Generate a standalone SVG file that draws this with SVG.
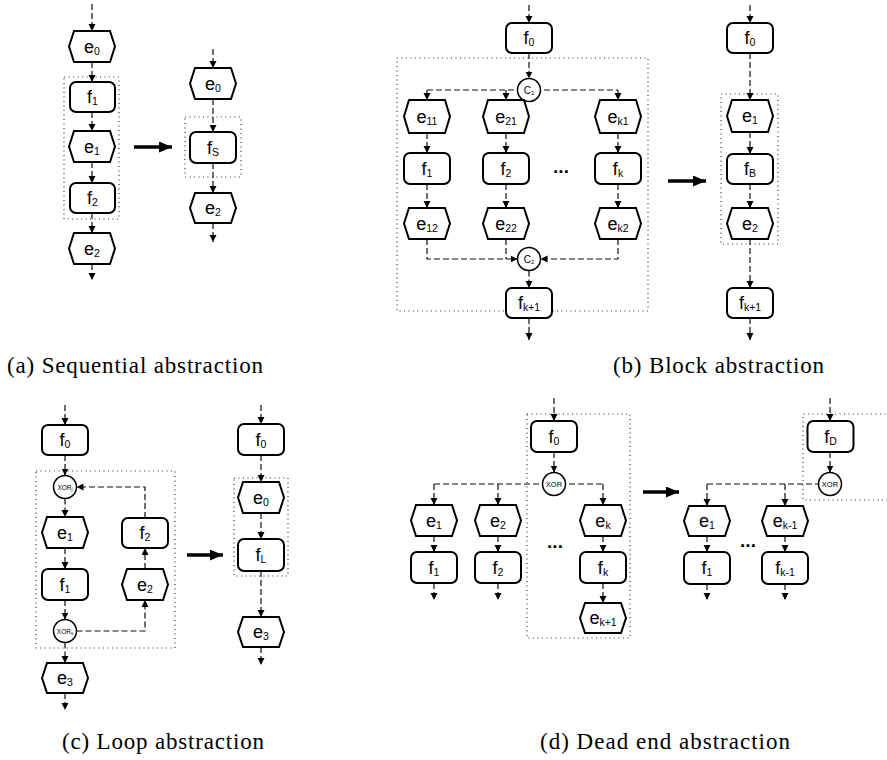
<svg xmlns="http://www.w3.org/2000/svg" width="887" height="760" viewBox="0 0 887 760">
<style>
.n{fill:#fff;stroke:#000;stroke-width:2}
.g{fill:#fff;stroke:#000;stroke-width:1.5}
.e{fill:none;stroke:#111;stroke-width:1.2;stroke-dasharray:6,3}
.box{fill:none;stroke:#333;stroke-width:1.2;stroke-dasharray:1,3.5}
.big{fill:none;stroke:#000;stroke-width:3.5}
.l{font-family:"Liberation Sans",Arial,sans-serif;font-size:18px;text-anchor:middle;fill:#000}
.s{font-size:10.5px}
.cl{font-family:"Liberation Sans",Arial,sans-serif;font-size:10px;text-anchor:middle;fill:#000}
.xj{font-family:"Liberation Sans",Arial,sans-serif;font-size:6.5px;text-anchor:middle;fill:#000}
.xd{font-family:"Liberation Sans",Arial,sans-serif;font-size:7.5px;text-anchor:middle;fill:#000}
.cap{font-family:"Liberation Serif","Times New Roman",serif;font-size:23px;fill:#000}
.dots{font-family:"Liberation Sans",Arial,sans-serif;font-size:19px;font-weight:bold;text-anchor:middle;fill:#000}
</style>
<defs>
<marker id="a" markerUnits="userSpaceOnUse" markerWidth="8" markerHeight="8" refX="7" refY="3.5" orient="auto"><path d="M0,0 L7,3.5 L0,7 z" fill="#000"/></marker>
<marker id="b" markerUnits="userSpaceOnUse" markerWidth="14" markerHeight="12" refX="13" refY="5.5" orient="auto"><path d="M0,0 L13,5.5 L0,11 z" fill="#000"/></marker>
</defs>

<!-- dotted grouping boxes -->
<g id="boxes">
<rect class="box" x="64" y="77" width="55" height="142"/>
<rect class="box" x="185" y="117" width="56" height="60"/>
<rect class="box" x="397" y="58" width="251" height="253"/>
<rect class="box" x="721" y="94" width="57" height="150"/>
<rect class="box" x="36" y="471" width="139" height="177"/>
<rect class="box" x="234" y="478" width="54" height="98"/>
<rect class="box" x="527" y="414" width="103" height="224"/>
<path class="box" d="M890,414 H803 V500 H890"/>
</g>

<!-- connectors -->
<g id="connectors">
<!-- (a) left -->
<line class="e" x1="92" y1="4" x2="92" y2="31" marker-end="url(#a)"/>
<line class="e" x1="92" y1="62" x2="92" y2="82" marker-end="url(#a)"/>
<line class="e" x1="92" y1="112" x2="92" y2="131" marker-end="url(#a)"/>
<line class="e" x1="92" y1="162" x2="92" y2="183" marker-end="url(#a)"/>
<line class="e" x1="92" y1="213" x2="92" y2="233" marker-end="url(#a)"/>
<line class="e" x1="92" y1="264" x2="92" y2="280" marker-end="url(#a)"/>
<line class="big" x1="134" y1="147" x2="172" y2="147" marker-end="url(#b)"/>
<!-- (a) right -->
<line class="e" x1="213" y1="49" x2="213" y2="68" marker-end="url(#a)"/>
<line class="e" x1="213" y1="99" x2="213" y2="132" marker-end="url(#a)"/>
<line class="e" x1="213" y1="163" x2="213" y2="193" marker-end="url(#a)"/>
<line class="e" x1="213" y1="223" x2="213" y2="242" marker-end="url(#a)"/>
<!-- (b) left -->
<line class="e" x1="529" y1="5" x2="529" y2="23" marker-end="url(#a)"/>
<line class="e" x1="529" y1="53" x2="529" y2="78.5" marker-end="url(#a)"/>
<line class="e" x1="427" y1="90" x2="618" y2="90"/>
<line class="e" x1="427" y1="90" x2="427" y2="100" marker-end="url(#a)"/>
<line class="e" x1="506" y1="90" x2="506" y2="100" marker-end="url(#a)"/>
<line class="e" x1="618" y1="90" x2="618" y2="100" marker-end="url(#a)"/>
<line class="e" x1="427" y1="133" x2="427" y2="153" marker-end="url(#a)"/>
<line class="e" x1="506" y1="133" x2="506" y2="153" marker-end="url(#a)"/>
<line class="e" x1="618" y1="133" x2="618" y2="153" marker-end="url(#a)"/>
<line class="e" x1="427" y1="184" x2="427" y2="208" marker-end="url(#a)"/>
<line class="e" x1="506" y1="184" x2="506" y2="208" marker-end="url(#a)"/>
<line class="e" x1="618" y1="184" x2="618" y2="208" marker-end="url(#a)"/>
<path class="e" d="M427,239 V259 H517.5" marker-end="url(#a)"/>
<path class="e" d="M506,239 V259"/>
<path class="e" d="M618,239 V259 H540.5" marker-end="url(#a)"/>
<line class="e" x1="529" y1="270.5" x2="529" y2="288" marker-end="url(#a)"/>
<line class="e" x1="529" y1="318" x2="529" y2="340" marker-end="url(#a)"/>
<line class="big" x1="668" y1="181" x2="706" y2="181" marker-end="url(#b)"/>
<!-- (b) right -->
<line class="e" x1="750" y1="5" x2="750" y2="23" marker-end="url(#a)"/>
<line class="e" x1="750" y1="53" x2="750" y2="100" marker-end="url(#a)"/>
<line class="e" x1="750" y1="132" x2="750" y2="154" marker-end="url(#a)"/>
<line class="e" x1="750" y1="184" x2="750" y2="208" marker-end="url(#a)"/>
<line class="e" x1="750" y1="239" x2="750" y2="288" marker-end="url(#a)"/>
<line class="e" x1="750" y1="318" x2="750" y2="340" marker-end="url(#a)"/>
<!-- (c) left -->
<line class="e" x1="65" y1="405" x2="65" y2="425" marker-end="url(#a)"/>
<line class="e" x1="65" y1="455" x2="65" y2="475.5" marker-end="url(#a)"/>
<line class="e" x1="65" y1="498.5" x2="65" y2="517" marker-end="url(#a)"/>
<line class="e" x1="65" y1="548" x2="65" y2="569" marker-end="url(#a)"/>
<line class="e" x1="65" y1="600" x2="65" y2="619.5" marker-end="url(#a)"/>
<line class="e" x1="65" y1="642.5" x2="65" y2="663" marker-end="url(#a)"/>
<line class="e" x1="65" y1="693" x2="65" y2="710" marker-end="url(#a)"/>
<path class="e" d="M76.5,631 H145 V600" marker-end="url(#a)"/>
<line class="e" x1="145" y1="569" x2="145" y2="548" marker-end="url(#a)"/>
<path class="e" d="M145,518 V487 H76.5" marker-end="url(#a)"/>
<line class="big" x1="187" y1="555" x2="223" y2="555" marker-end="url(#b)"/>
<!-- (c) right -->
<line class="e" x1="261" y1="405" x2="261" y2="424" marker-end="url(#a)"/>
<line class="e" x1="261" y1="455" x2="261" y2="482" marker-end="url(#a)"/>
<line class="e" x1="261" y1="513" x2="261" y2="539" marker-end="url(#a)"/>
<line class="e" x1="261" y1="571" x2="261" y2="617" marker-end="url(#a)"/>
<line class="e" x1="261" y1="647" x2="261" y2="665" marker-end="url(#a)"/>
<!-- (d) left -->
<line class="e" x1="554" y1="398" x2="554" y2="421" marker-end="url(#a)"/>
<line class="e" x1="554" y1="452" x2="554" y2="472.5" marker-end="url(#a)"/>
<line class="e" x1="434" y1="484" x2="603" y2="484"/>
<line class="e" x1="434" y1="484" x2="434" y2="505" marker-end="url(#a)"/>
<line class="e" x1="498" y1="484" x2="498" y2="505" marker-end="url(#a)"/>
<line class="e" x1="603" y1="484" x2="603" y2="505" marker-end="url(#a)"/>
<line class="e" x1="434" y1="536" x2="434" y2="552" marker-end="url(#a)"/>
<line class="e" x1="498" y1="536" x2="498" y2="552" marker-end="url(#a)"/>
<line class="e" x1="603" y1="536" x2="603" y2="552" marker-end="url(#a)"/>
<line class="e" x1="434" y1="583" x2="434" y2="600" marker-end="url(#a)"/>
<line class="e" x1="498" y1="583" x2="498" y2="600" marker-end="url(#a)"/>
<line class="e" x1="603" y1="583" x2="603" y2="603" marker-end="url(#a)"/>
<line class="big" x1="643" y1="492" x2="679" y2="492" marker-end="url(#b)"/>
<!-- (d) right -->
<line class="e" x1="830" y1="398" x2="830" y2="421" marker-end="url(#a)"/>
<line class="e" x1="830" y1="452" x2="830" y2="472.5" marker-end="url(#a)"/>
<line class="e" x1="707" y1="484" x2="818.5" y2="484"/>
<line class="e" x1="707" y1="484" x2="707" y2="506" marker-end="url(#a)"/>
<line class="e" x1="785" y1="484" x2="785" y2="506" marker-end="url(#a)"/>
<line class="e" x1="707" y1="536" x2="707" y2="552" marker-end="url(#a)"/>
<line class="e" x1="785" y1="536" x2="785" y2="552" marker-end="url(#a)"/>
<line class="e" x1="707" y1="584" x2="707" y2="600" marker-end="url(#a)"/>
<line class="e" x1="785" y1="584" x2="785" y2="600" marker-end="url(#a)"/>
</g>

<!-- (a) nodes -->
<g id="a_e0"><polygon class="n" points="69,46.5 74,31 110,31 115,46.5 110,62 74,62"/><text class="l" x="92" y="52.5">e<tspan class="s" dy="2">0</tspan></text></g>
<g id="a_f1"><rect class="n" x="70" y="82" width="45" height="30" rx="6"/><text class="l" x="92.5" y="103">f<tspan class="s" dy="2">1</tspan></text></g>
<g id="a_e1"><polygon class="n" points="69,146.5 74,131 110,131 115,146.5 110,162 74,162"/><text class="l" x="92" y="152.5">e<tspan class="s" dy="2">1</tspan></text></g>
<g id="a_f2"><rect class="n" x="70" y="183" width="45" height="30" rx="6"/><text class="l" x="92.5" y="204">f<tspan class="s" dy="2">2</tspan></text></g>
<g id="a_e2"><polygon class="n" points="69,248.5 74,233 110,233 115,248.5 110,264 74,264"/><text class="l" x="92" y="254.5">e<tspan class="s" dy="2">2</tspan></text></g>
<g id="a_e0r"><polygon class="n" points="190,83.5 195,68 231,68 236,83.5 231,99 195,99"/><text class="l" x="213" y="89.5">e<tspan class="s" dy="2">0</tspan></text></g>
<g id="a_fS"><rect class="n" x="190" y="132" width="46" height="31" rx="6"/><text class="l" x="213" y="153.5">f<tspan class="s" dy="2">S</tspan></text></g>
<g id="a_e2r"><polygon class="n" points="190,208 195,193 231,193 236,208 231,223 195,223"/><text class="l" x="213" y="214">e<tspan class="s" dy="2">2</tspan></text></g>

<!-- (b) nodes -->
<g id="b_f0"><rect class="n" x="506" y="23" width="46" height="30" rx="6"/><text class="l" x="529" y="44">f<tspan class="s" dy="2">0</tspan></text></g>
<g id="b_c1"><circle class="g" cx="529" cy="90" r="11.5"/><text class="cl" x="529" y="93.5">C<tspan font-size="6" dy="1.5">1</tspan></text></g>
<g id="b_e11"><polygon class="n" points="404,116.5 409,100 445,100 450,116.5 445,133 409,133"/><text class="l" x="427" y="122.5">e<tspan class="s" dy="2">11</tspan></text></g>
<g id="b_e21"><polygon class="n" points="483,116.5 488,100 524,100 529,116.5 524,133 488,133"/><text class="l" x="506" y="122.5">e<tspan class="s" dy="2">21</tspan></text></g>
<g id="b_ek1"><polygon class="n" points="595,116.5 600,100 636,100 641,116.5 636,133 600,133"/><text class="l" x="618" y="122.5">e<tspan class="s" dy="2">k1</tspan></text></g>
<g id="b_f1"><rect class="n" x="404" y="153" width="46" height="31" rx="6"/><text class="l" x="427" y="174.5">f<tspan class="s" dy="2">1</tspan></text></g>
<g id="b_f2"><rect class="n" x="483" y="153" width="46" height="31" rx="6"/><text class="l" x="506" y="174.5">f<tspan class="s" dy="2">2</tspan></text></g>
<g id="b_fk"><rect class="n" x="595" y="153" width="46" height="31" rx="6"/><text class="l" x="618" y="174.5">f<tspan class="s" dy="2">k</tspan></text></g>
<g id="b_e12"><polygon class="n" points="404,223.5 409,208 445,208 450,223.5 445,239 409,239"/><text class="l" x="427" y="229.5">e<tspan class="s" dy="2">12</tspan></text></g>
<g id="b_e22"><polygon class="n" points="483,223.5 488,208 524,208 529,223.5 524,239 488,239"/><text class="l" x="506" y="229.5">e<tspan class="s" dy="2">22</tspan></text></g>
<g id="b_ek2"><polygon class="n" points="595,223.5 600,208 636,208 641,223.5 636,239 600,239"/><text class="l" x="618" y="229.5">e<tspan class="s" dy="2">k2</tspan></text></g>
<g id="b_dots"><text class="dots" x="561" y="173">...</text></g>
<g id="b_c2"><circle class="g" cx="529" cy="259" r="11.5"/><text class="cl" x="529" y="262.5">C<tspan font-size="6" dy="1.5">2</tspan></text></g>
<g id="b_fk1"><rect class="n" x="506" y="288" width="46" height="30" rx="6"/><text class="l" x="529" y="309">f<tspan class="s" dy="2">k+1</tspan></text></g>
<g id="b_f0r"><rect class="n" x="727" y="23" width="46" height="30" rx="6"/><text class="l" x="750" y="44">f<tspan class="s" dy="2">0</tspan></text></g>
<g id="b_e1r"><polygon class="n" points="727,116 732,100 768,100 773,116 768,132 732,132"/><text class="l" x="750" y="122">e<tspan class="s" dy="2">1</tspan></text></g>
<g id="b_fB"><rect class="n" x="727" y="154" width="46" height="30" rx="6"/><text class="l" x="750" y="175">f<tspan class="s" dy="2">B</tspan></text></g>
<g id="b_e2r"><polygon class="n" points="727,223.5 732,208 768,208 773,223.5 768,239 732,239"/><text class="l" x="750" y="229.5">e<tspan class="s" dy="2">2</tspan></text></g>
<g id="b_fk1r"><rect class="n" x="727" y="288" width="46" height="30" rx="6"/><text class="l" x="750" y="309">f<tspan class="s" dy="2">k+1</tspan></text></g>

<!-- (c) nodes -->
<g id="c_f0"><rect class="n" x="42" y="425" width="46" height="30" rx="6"/><text class="l" x="65" y="446">f<tspan class="s" dy="2">0</tspan></text></g>
<g id="c_xorj"><circle class="g" cx="65" cy="487" r="11.5"/><text class="xj" x="65" y="489.5">XOR<tspan font-size="4.5" dy="1">j</tspan></text></g>
<g id="c_e1"><polygon class="n" points="42,532.5 47,517 83,517 88,532.5 83,548 47,548"/><text class="l" x="65" y="538.5">e<tspan class="s" dy="2">1</tspan></text></g>
<g id="c_f1"><rect class="n" x="42" y="569" width="46" height="31" rx="6"/><text class="l" x="65" y="590.5">f<tspan class="s" dy="2">1</tspan></text></g>
<g id="c_xors"><circle class="g" cx="65" cy="631" r="11.5"/><text class="xj" x="65" y="633.5">XOR<tspan font-size="4.5" dy="1">s</tspan></text></g>
<g id="c_e3"><polygon class="n" points="42,678 47,663 83,663 88,678 83,693 47,693"/><text class="l" x="65" y="684">e<tspan class="s" dy="2">3</tspan></text></g>
<g id="c_f2"><rect class="n" x="122" y="518" width="46" height="30" rx="6"/><text class="l" x="145" y="539">f<tspan class="s" dy="2">2</tspan></text></g>
<g id="c_e2"><polygon class="n" points="122,584.5 127,569 163,569 168,584.5 163,600 127,600"/><text class="l" x="145" y="590.5">e<tspan class="s" dy="2">2</tspan></text></g>
<g id="c_f0r"><rect class="n" x="238" y="424" width="46" height="31" rx="6"/><text class="l" x="261" y="445.5">f<tspan class="s" dy="2">0</tspan></text></g>
<g id="c_e0r"><polygon class="n" points="238,497.5 243,482 279,482 284,497.5 279,513 243,513"/><text class="l" x="261" y="503.5">e<tspan class="s" dy="2">0</tspan></text></g>
<g id="c_fL"><rect class="n" x="238" y="539" width="46" height="32" rx="6"/><text class="l" x="261" y="561">f<tspan class="s" dy="2">L</tspan></text></g>
<g id="c_e3r"><polygon class="n" points="238,632 243,617 279,617 284,632 279,647 243,647"/><text class="l" x="261" y="638">e<tspan class="s" dy="2">3</tspan></text></g>

<!-- (d) nodes -->
<g id="d_f0"><rect class="n" x="531" y="421" width="46" height="31" rx="6"/><text class="l" x="554" y="442.5">f<tspan class="s" dy="2">0</tspan></text></g>
<g id="d_xor"><circle class="g" cx="554" cy="484" r="11.5"/><text class="xd" x="554" y="487">XOR</text></g>
<g id="d_e1"><polygon class="n" points="411,520.5 416,505 452,505 457,520.5 452,536 416,536"/><text class="l" x="434" y="526.5">e<tspan class="s" dy="2">1</tspan></text></g>
<g id="d_e2"><polygon class="n" points="475,520.5 480,505 516,505 521,520.5 516,536 480,536"/><text class="l" x="498" y="526.5">e<tspan class="s" dy="2">2</tspan></text></g>
<g id="d_ek"><polygon class="n" points="580,520.5 585,505 621,505 626,520.5 621,536 585,536"/><text class="l" x="603" y="526.5">e<tspan class="s" dy="2">k</tspan></text></g>
<g id="d_f1"><rect class="n" x="411" y="552" width="46" height="31" rx="6"/><text class="l" x="434" y="573.5">f<tspan class="s" dy="2">1</tspan></text></g>
<g id="d_f2"><rect class="n" x="475" y="552" width="46" height="31" rx="6"/><text class="l" x="498" y="573.5">f<tspan class="s" dy="2">2</tspan></text></g>
<g id="d_fk"><rect class="n" x="580" y="552" width="46" height="31" rx="6"/><text class="l" x="603" y="573.5">f<tspan class="s" dy="2">k</tspan></text></g>
<g id="d_ek1"><polygon class="n" points="580,618 585,603 621,603 626,618 621,633 585,633"/><text class="l" x="603" y="624">e<tspan class="s" dy="2">k+1</tspan></text></g>
<g id="d_dots"><text class="dots" x="555" y="548">...</text></g>
<g id="d_fD"><rect class="n" x="807.5" y="421" width="46" height="31" rx="6"/><text class="l" x="830.5" y="442.5">f<tspan class="s" dy="2">D</tspan></text></g>
<g id="d_xorr"><circle class="g" cx="830" cy="484" r="11.5"/><text class="xd" x="830" y="487">XOR</text></g>
<g id="d_e1r"><polygon class="n" points="684,521 689,506 725,506 730,521 725,536 689,536"/><text class="l" x="707" y="527">e<tspan class="s" dy="2">1</tspan></text></g>
<g id="d_ekm1"><polygon class="n" points="762,521 767,506 803,506 808,521 803,536 767,536"/><text class="l" x="785" y="527">e<tspan class="s" dy="2">k-1</tspan></text></g>
<g id="d_f1r"><rect class="n" x="684" y="552" width="46" height="32" rx="6"/><text class="l" x="707" y="574">f<tspan class="s" dy="2">1</tspan></text></g>
<g id="d_fkm1"><rect class="n" x="762" y="552" width="46" height="32" rx="6"/><text class="l" x="785" y="574">f<tspan class="s" dy="2">k-1</tspan></text></g>
<g id="d_dots2"><text class="dots" x="748" y="547">...</text></g>

<!-- captions -->
<g id="captions">
<text class="cap" x="7" y="373" textLength="256" lengthAdjust="spacing">(a) Sequential abstraction</text>
<text class="cap" x="613" y="373" textLength="211" lengthAdjust="spacing">(b) Block abstraction</text>
<text class="cap" x="62" y="749" textLength="202" lengthAdjust="spacing">(c) Loop abstraction</text>
<text class="cap" x="540" y="749" textLength="250" lengthAdjust="spacing">(d) Dead end abstraction</text>
</g>
</svg>
